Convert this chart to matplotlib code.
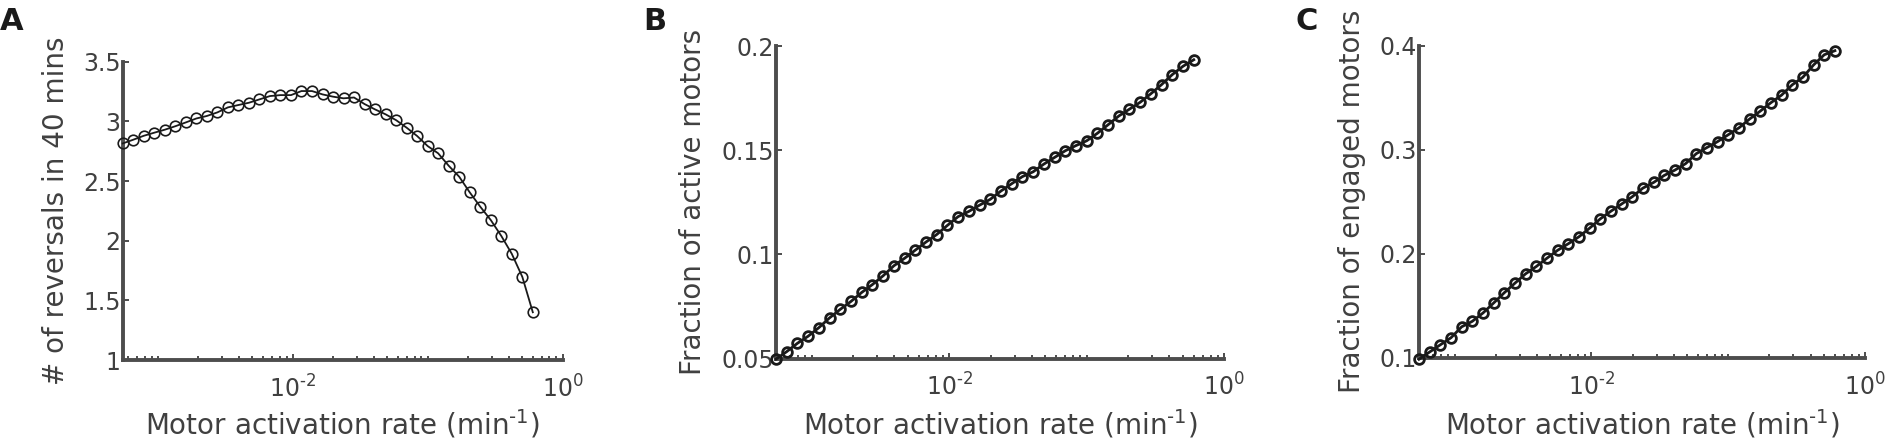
import matplotlib
matplotlib.use("Agg")
import matplotlib.pyplot as plt
from matplotlib.ticker import LogLocator, NullFormatter, FixedLocator, FixedFormatter

# motor activation rate (1/min), shared by the three panels
rate = [5.495e-4, 6.574e-4, 7.865e-4, 9.415e-4, 1.1263e-3, 1.3478e-3, 1.6131e-3,
        1.9299e-3, 2.3095e-3, 2.7636e-3, 3.3076e-3, 3.9575e-3, 4.7365e-3, 5.6665e-3,
        6.7815e-3, 8.1133e-3, 9.7096e-3, 1.1617e-2, 1.3903e-2, 1.6634e-2, 1.9907e-2,
        2.3816e-2, 2.8503e-2, 3.4100e-2, 4.0810e-2, 4.8830e-2, 5.8440e-2, 6.9920e-2,
        8.3680e-2, 0.10012, 0.11981, 0.14335, 0.17155, 0.20525, 0.24563, 0.29389,
        0.35171, 0.42080, 0.50361, 0.60256]

reversals = [2.815, 2.846, 2.879, 2.905, 2.930, 2.959, 2.991, 3.024, 3.045, 3.075,
             3.117, 3.137, 3.156, 3.184, 3.212, 3.220, 3.220, 3.254, 3.254, 3.226,
             3.207, 3.193, 3.200, 3.145, 3.100, 3.059, 3.010, 2.947, 2.877, 2.793,
             2.732, 2.628, 2.536, 2.405, 2.285, 2.173, 2.040, 1.890, 1.697, 1.400]

frac_active = [0.0497, 0.0533, 0.0573, 0.0607, 0.0648, 0.0695, 0.0736, 0.0774, 0.0817,
               0.0855, 0.0897, 0.0945, 0.0981, 0.1020, 0.1059, 0.1095, 0.1139, 0.1181,
               0.1206, 0.1236, 0.1264, 0.1304, 0.1339, 0.1373, 0.1396, 0.1433, 0.1465,
               0.1497, 0.1522, 0.1545, 0.1581, 0.1622, 0.1664, 0.1697, 0.1730, 0.1771,
               0.1815, 0.1863, 0.1903, 0.1934]

frac_engaged = [0.0985, 0.1055, 0.1124, 0.1192, 0.1297, 0.1350, 0.1430, 0.1526, 0.1625,
                0.1717, 0.1807, 0.1877, 0.1957, 0.2033, 0.2096, 0.2163, 0.2246, 0.2335,
                0.2409, 0.2478, 0.2548, 0.2631, 0.2685, 0.2753, 0.2804, 0.2866, 0.2962,
                0.3021, 0.3078, 0.3144, 0.3210, 0.3295, 0.3371, 0.3452, 0.3525, 0.3624,
                0.3697, 0.3815, 0.3913, 0.3952]

XTICKS = [1e-2, 1e0]
XTICK_LABELS = ["$10^{\\text{-2}}$", "$10^{\\text{0}}$"]
XLABEL = "Motor activation rate (min$^{\\text{-1}}$)"
TEXT_C = "#404040"
AXIS_C = "#4d4d4d"
LINE_C = "#1a1a1a"

plt.rcParams["font.family"] = ["DejaVu Sans"]
plt.rcParams["mathtext.default"] = "regular"

fig = plt.figure(figsize=(18.92, 4.42), dpi=100)
W, H = 1892.0, 442.0


def px_axes(left, right, top, bottom):
    return [left / W, 1 - bottom / H, (right - left) / W, (bottom - top) / H]


panels = [
    # letter, letter x, axes box (px), y data, ylim, yticks, ytick labels, ylabel, ylabel x, style
    ("A", 0, (122.7, 562.5, 61.7, 360.0), reversals, (1, 3.5),
     [1, 1.5, 2, 2.5, 3, 3.5], ["1", "1.5", "2", "2.5", "3", "3.5"],
     "# of reversals in 40 mins", 56, (1.3, 7.6, 1.2)),
    ("B", 643, (776.0, 1224.0, 46.0, 358.5), frac_active, (0.05, 0.2),
     [0.05, 0.1, 0.15, 0.2], ["0.05", "0.1", "0.15", "0.2"],
     "Fraction of active motors", 693, (2.0, 7.0, 2.0)),
    ("C", 1295, (1419.0, 1865.0, 45.7, 357.7), frac_engaged, (0.1, 0.4),
     [0.1, 0.2, 0.3, 0.4], ["0.1", "0.2", "0.3", "0.4"],
     "Fraction of engaged motors", 1352, (2.0, 7.0, 2.0)),
]

for letter, lx, box, yvals, ylim, yt, ytl, ylab, ylab_x, style in panels:
    left, right, top, bottom = box
    ax = fig.add_axes(px_axes(left, right, top, bottom))
    lw, ms, mew = style
    ax.plot(rate, yvals, "-o", color=LINE_C, lw=lw, ms=ms, mew=mew,
            mfc="none", mec=LINE_C, clip_on=False, zorder=3)

    ax.set_xscale("log")
    ax.set_xlim(rate[0], 1.0)
    ax.set_ylim(*ylim)
    ax.xaxis.set_major_locator(FixedLocator(XTICKS))
    ax.xaxis.set_major_formatter(FixedFormatter(XTICK_LABELS))
    ax.xaxis.set_minor_locator(LogLocator(base=10, subs=range(1, 10), numticks=20))
    ax.xaxis.set_minor_formatter(NullFormatter())
    ax.yaxis.set_major_locator(FixedLocator(yt))
    ax.yaxis.set_major_formatter(FixedFormatter(ytl))

    for s in ("top", "right"):
        ax.spines[s].set_visible(False)
    for s in ("left", "bottom"):
        ax.spines[s].set_linewidth(2.8)
        ax.spines[s].set_color(AXIS_C)

    ax.tick_params(which="both", direction="in", color=AXIS_C, width=1.4,
                   labelcolor=TEXT_C, labelsize=17)
    ax.tick_params(axis="y", which="major", length=4.5, pad=1.5)
    ax.tick_params(axis="x", which="major", length=4.5, pad=11)
    ax.tick_params(axis="x", which="minor", length=3.2)

    ax.set_xlabel(XLABEL, fontsize=20, color=TEXT_C, va="center")
    ax.xaxis.set_label_coords(0.5, (bottom - 424) / (bottom - top))
    ax.set_ylabel(ylab, fontsize=20, color=TEXT_C, va="center")
    ax.yaxis.set_label_coords((ylab_x - left) / (right - left), 0.5)

    fig.text(lx / W, 1 - 30 / H, letter, fontsize=22, fontweight="bold",
             color=LINE_C, ha="left", va="baseline")

fig.savefig("out.png", dpi=100)
